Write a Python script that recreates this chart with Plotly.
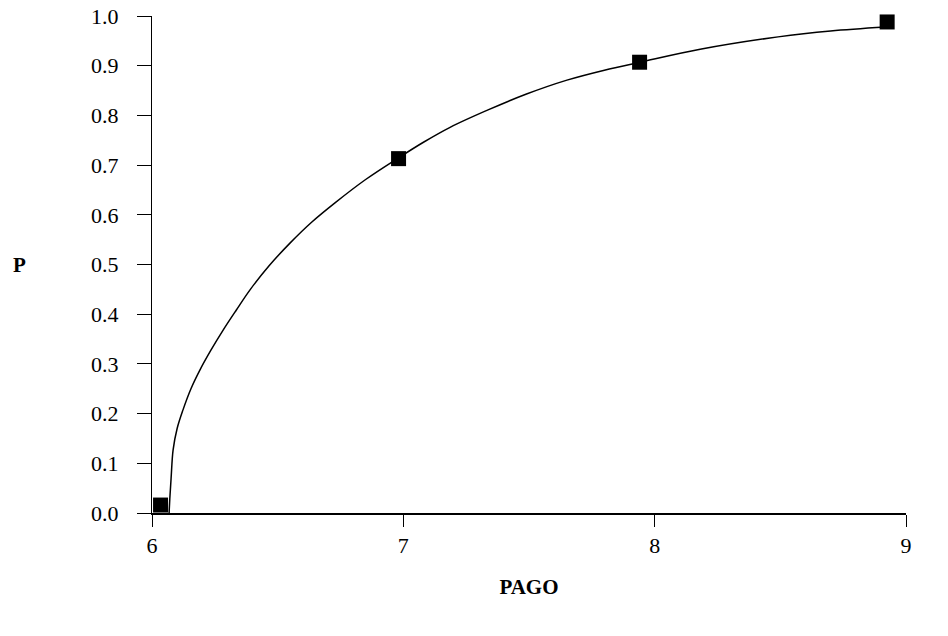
import plotly.graph_objects as go

# Observed data points (PAGO, P)
pago_points = [6.034, 6.981, 7.940, 8.925]
p_points = [0.016, 0.713, 0.907, 0.988]

# Fitted curve
curve_pago = [6.068, 6.071, 6.076, 6.084, 6.100, 6.123, 6.155, 6.191, 6.235, 6.283,
              6.335, 6.390, 6.465, 6.549, 6.635, 6.728, 6.850, 6.979, 7.080,
              7.186, 7.337, 7.490, 7.651, 7.800, 7.942, 8.181, 8.491, 8.700, 8.917]
curve_p = [0.000, 0.030, 0.070, 0.127, 0.170, 0.207, 0.250, 0.288, 0.328, 0.368,
           0.408, 0.449, 0.497, 0.543, 0.585, 0.624, 0.671, 0.714, 0.746,
           0.776, 0.811, 0.843, 0.871, 0.891, 0.907, 0.933, 0.958, 0.970, 0.978]

x_ticks = [6, 7, 8, 9]
y_ticks = [0.0, 0.1, 0.2, 0.3, 0.4, 0.5, 0.6, 0.7, 0.8, 0.9, 1.0]
y_ticklabels = [f"{v:.1f}" for v in y_ticks]

font_family = "Liberation Serif"

fig = go.Figure()
fig.add_trace(go.Scatter(
    x=curve_pago, y=curve_p, mode="lines",
    line=dict(color="black", width=1.5, shape="spline", smoothing=1.0),
    showlegend=False, hoverinfo="skip"))
fig.add_trace(go.Scatter(
    x=pago_points, y=p_points, mode="markers",
    marker=dict(symbol="square", size=15, color="black"),
    showlegend=False, cliponaxis=False))

fig.update_layout(
    width=948, height=636,
    margin=dict(l=152, r=42, t=16, b=123, autoexpand=False),
    plot_bgcolor="white", paper_bgcolor="white",
    font=dict(family=font_family, size=22, color="black"),
    xaxis=dict(
        range=[6, 9], tickvals=x_ticks, ticktext=[str(v) for v in x_ticks],
        showgrid=False, zeroline=False, showline=True, linecolor="black", linewidth=2,
        ticks="outside", ticklen=12, tickwidth=1, tickcolor="black",
        ticklabelstandoff=0, ticklabeloverflow="allow", automargin=False,
        title=dict(text="<b>PAGO</b>", font=dict(size=21, family=font_family), standoff=22),
    ),
    yaxis=dict(
        range=[0, 1], tickvals=y_ticks, ticktext=y_ticklabels,
        showgrid=False, zeroline=False, showline=True, linecolor="black", linewidth=1,
        ticks="outside", ticklen=14, tickwidth=1, tickcolor="black",
        ticklabelstandoff=14, ticklabeloverflow="allow", automargin=False,
    ),
    annotations=[dict(
        text="<b>P</b>", xref="paper", yref="paper", x=-0.187, y=0.50,
        xanchor="left", yanchor="middle", showarrow=False,
        font=dict(size=21, family=font_family, color="black"))],
)

fig.write_html(
    "out.html",
    config={"displayModeBar": False},
    post_script="document.body.style.margin='0px';document.body.style.overflow='hidden';",
)
